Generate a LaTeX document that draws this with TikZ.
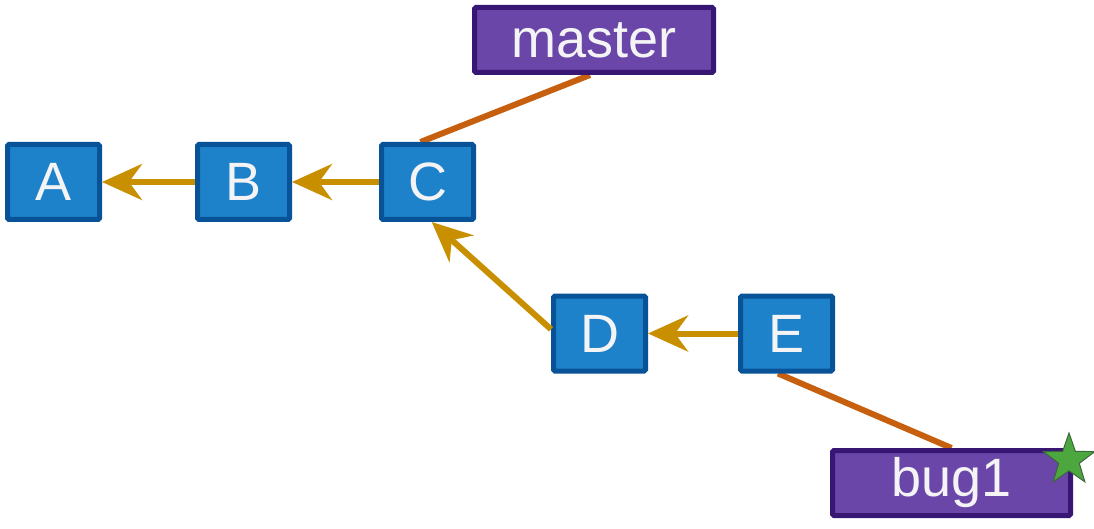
\documentclass[tikz,border=0pt]{standalone}
\usepackage{fontspec}
\setmainfont{Liberation Sans}
\usetikzlibrary{arrows.meta,shapes.geometric,backgrounds}
\definecolor{boxfill}{RGB}{30,130,202}
\definecolor{boxline}{RGB}{8,82,152}
\definecolor{brfill}{RGB}{106,70,168}
\definecolor{brline}{RGB}{56,22,116}
\definecolor{arrcol}{RGB}{200,144,0}
\definecolor{lnkcol}{RGB}{198,96,14}
\definecolor{starfill}{RGB}{76,168,62}
\definecolor{starline}{RGB}{62,102,62}
\definecolor{txt}{RGB}{244,244,246}
\begin{document}
\begin{tikzpicture}[x=1pt,y=-1pt,
  commit/.style={rectangle,draw=boxline,fill=boxfill,line width=5pt,rounded corners=1.5pt,
    minimum width=92pt,minimum height=75pt,inner sep=0pt,text=txt,
    font=\fontsize{54}{60}\selectfont},
  branch/.style={rectangle,draw=brline,fill=brfill,line width=5pt,rounded corners=1.5pt,
    minimum height=65pt,inner sep=0pt,text=txt,
    font=\fontsize{54}{60}\selectfont},
  arr/.style={draw=arrcol,line width=6pt,-{Stealth[length=40pt,width=36pt,inset=13pt]}},
  lnk/.style={draw=lnkcol,line width=6pt}]
\useasboundingbox (0,0) rectangle (1094,529);
\node[commit] (A) at (53.5,182) {A};
\node[commit] (B) at (243.5,182) {B};
\node[commit] (C) at (427.5,182) {C};
\node[commit] (D) at (599.5,333.5) {D};
\node[commit] (E) at (786.5,333.5) {E};
\node[branch,minimum width=239pt] (master) at (594,40) {master};
\node[branch,minimum width=238pt] (bug1) at (951.5,483) {bug1};
\node[star,star points=5,star point ratio=2.5,draw=starline,fill=starfill,line width=1pt,
  minimum size=54pt,inner sep=0pt] (star) at (1069,460) {};
\begin{scope}[on background layer]
\draw[lnk] ([xshift=-4pt]master.south) -- (C.100);
\draw[lnk] (E.-102) -- (bug1.north);
\end{scope}
\draw[arr] (B.west) -- (A.east);
\draw[arr] (C.west) -- (B.east);
\draw[arr] (E.west) -- (D.east);
\draw[arr] (D.175) -- (C.-84);
\end{tikzpicture}
\end{document}
